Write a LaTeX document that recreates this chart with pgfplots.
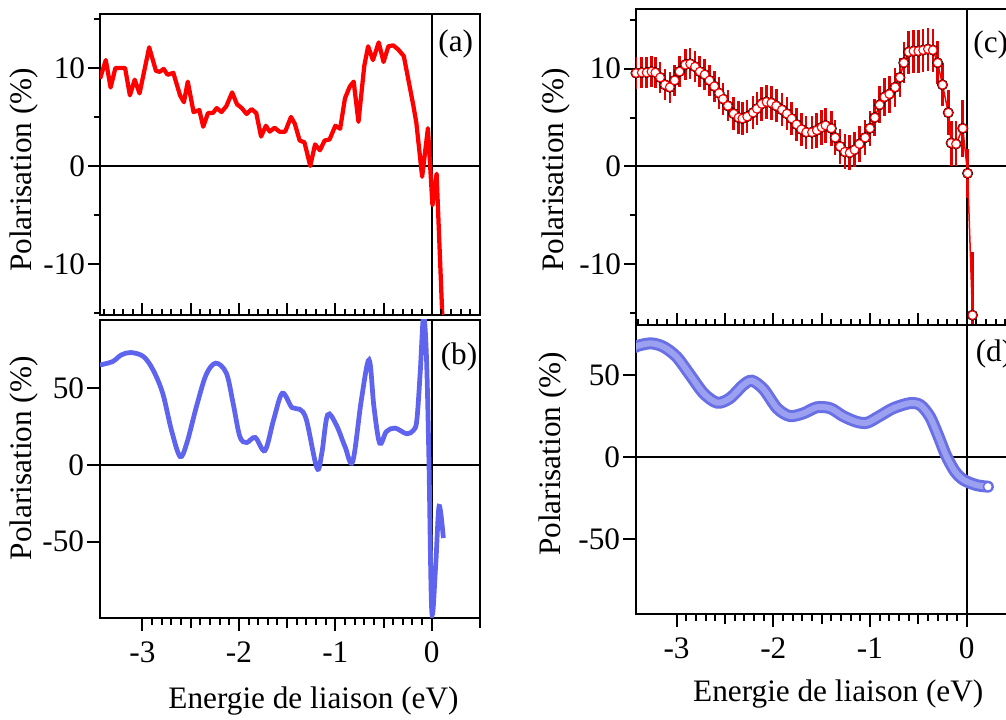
\documentclass[border=0pt]{standalone}
\usepackage{fontspec}
\setmainfont{Liberation Serif}
\usepackage{pgfplots}
\pgfplotsset{compat=1.18}
\usepackage{pgfplotstable}
\definecolor{cred}{RGB}{255,0,0}
\definecolor{cblue}{RGB}{95,100,238}
\definecolor{dblue}{RGB}{105,112,230}
\definecolor{lblue}{RGB}{155,160,240}

\pgfplotstableread{
x y
-3.44 8.9
-3.38 10.8
-3.33 8.0
-3.28 10.0
-3.18 10.0
-3.13 7.2
-3.08 8.8
-3.03 7.4
-2.93 12.1
-2.86 9.7
-2.82 9.6
-2.78 9.9
-2.74 9.3
-2.68 9.5
-2.61 7.2
-2.57 6.5
-2.53 8.6
-2.47 5.5
-2.41 5.7
-2.37 4.0
-2.32 5.4
-2.27 5.4
-2.23 5.9
-2.18 5.5
-2.13 6.1
-2.07 7.5
-2.02 6.3
-1.97 5.9
-1.92 5.3
-1.87 5.8
-1.82 5.4
-1.77 3.0
-1.72 4.1
-1.68 3.5
-1.63 3.9
-1.58 3.5
-1.52 3.5
-1.46 5.0
-1.42 4.3
-1.37 2.6
-1.32 2.4
-1.26 0.0
-1.21 2.2
-1.16 1.6
-1.11 2.6
-1.06 2.7
-1.00 4.1
-0.95 3.8
-0.90 6.9
-0.85 8.1
-0.81 8.6
-0.76 4.5
-0.70 10.2
-0.66 12.2
-0.61 10.8
-0.55 12.6
-0.50 10.6
-0.45 12.2
-0.40 12.3
-0.35 11.9
-0.29 11.2
-0.19 6.1
-0.16 4.4
-0.10 -1.1
-0.04 3.85
0.007 -4.0
0.05 -0.8
0.112 -16
}\dataA

\pgfplotstableread{
x y
-3.44 65
-3.31 67.2
-3.22 71.5
-3.12 73.1
-2.99 70.5
-2.89 61.8
-2.79 46.6
-2.70 22.8
-2.61 5.4
-2.54 14.1
-2.44 37.9
-2.34 58.6
-2.24 66.2
-2.13 59.7
-2.06 40.1
-1.99 18.4
-1.92 14.5
-1.83 17.8
-1.73 9.3
-1.64 29.3
-1.55 46.6
-1.45 37.3
-1.37 36.2
-1.30 29.3
-1.19 -2.2
-1.14 7.6
-1.08 32.5
-0.99 26.0
-0.90 11.9
-0.82 2.1
-0.73 42.3
-0.65 68.3
-0.60 37.9
-0.54 14.1
-0.47 21.7
-0.38 23.9
-0.26 20.2
-0.19 22.5
-0.155 29
-0.12 60
-0.085 97
-0.055 70
-0.03 5
0.0 -95.4
0.04 -66
0.076 -27
0.12 -47.7
}\dataB

\pgfplotstableread{
x y e
-3.42 9.55 1.6
-3.36 9.6 1.6
-3.31 9.6 1.6
-3.26 9.7 1.6
-3.22 9.6 1.6
-3.17 9.1 1.6
-3.12 8.35 1.6
-3.07 8.1 1.6
-3.02 8.8 1.6
-2.97 9.7 1.6
-2.91 10.4 1.6
-2.86 10.5 1.6
-2.81 10.2 1.6
-2.76 9.7 1.6
-2.71 9.4 1.6
-2.66 8.8 1.6
-2.61 8.2 1.6
-2.56 7.5 1.6
-2.52 6.9 1.6
-2.47 6.2 1.6
-2.41 5.4 1.7
-2.36 5.0 1.7
-2.32 4.9 1.7
-2.27 5.1 1.7
-2.21 5.5 1.7
-2.17 5.9 1.7
-2.12 6.4 1.7
-2.07 6.6 1.7
-2.02 6.5 1.7
-1.97 6.2 1.7
-1.91 5.8 1.7
-1.86 5.4 1.7
-1.81 4.9 1.7
-1.76 4.3 1.7
-1.71 3.8 1.7
-1.66 3.5 1.7
-1.60 3.5 1.7
-1.55 3.7 1.8
-1.50 4.0 1.8
-1.46 4.2 1.8
-1.40 3.9 1.8
-1.36 2.95 1.8
-1.31 2.05 1.8
-1.26 1.5 1.8
-1.21 1.4 1.8
-1.16 1.7 1.8
-1.11 2.3 1.8
-1.05 2.95 1.8
-1.00 3.9 1.8
-0.95 5.0 1.9
-0.90 6.3 1.9
-0.85 7.1 1.9
-0.80 7.4 1.9
-0.74 8.1 2.0
-0.69 9.1 2.0
-0.65 10.6 2.1
-0.60 11.7 2.2
-0.55 11.8 2.2
-0.50 11.8 2.2
-0.45 11.9 2.2
-0.40 12.0 2.2
-0.35 11.9 2.2
-0.30 10.6 2.2
-0.25 8.35 2.2
-0.19 5.5 2.3
-0.16 2.4 2.3
-0.11 2.3 2.3
-0.04 3.9 2.9
0.01 -0.7 2.5
0.06 -15.2 6.5
}\dataC

\pgfplotstableread{
x y
-3.42 67.4
-3.41 67.9
-3.27 69.5
-3.14 67.5
-3.00 61.3
-2.86 50.2
-2.72 39.0
-2.58 33.3
-2.45 36.0
-2.31 44.1
-2.22 46.7
-2.10 41.5
-1.96 29.9
-1.83 25.2
-1.69 26.8
-1.55 30.5
-1.41 29.9
-1.28 25.2
-1.14 21.7
-1.03 21.1
-0.90 25.2
-0.76 29.9
-0.59 33.0
-0.48 31.9
-0.38 24.8
-0.29 12.6
-0.21 0.8
-0.12 -8.7
-0.03 -13.8
0.10 -16.9
0.22 -17.9
}\dataD

\pgfplotstableread{
x y
0.22 -17.9
}\dataDend

\pgfplotsset{
  panel/.style={
    scale only axis,
    anchor=south west,
    axis line style={line width=0.8pt},
    tick style={line width=0.8pt, black},
    yticklabel style={xshift=3.2pt},
    clip=true,
  },
}

\begin{document}
\fontsize{12.5}{15}\selectfont
\begin{tikzpicture}
\path[use as bounding box, clip] (0,0) rectangle (402.4pt,288pt);

% ---------- (a) ----------
\begin{axis}[panel,
  at={(40pt,162pt)}, width=152pt, height=120.4pt,
  xmin=-3.44, xmax=0.5, ymin=-15.2, ymax=15.5,
  xtick=\empty,
  ytick={-10,0,10}, yticklabels={-10,0,10},
  minor ytick={-15,-5,5,15},
  ytick pos=left, tick align=outside,
  major tick length=4.8pt, minor tick length=2.6pt,
]
\addplot[black, line width=0.8pt] coordinates {(-3.44,0) (0.5,0)};
\addplot[black, line width=0.8pt] coordinates {(0,-15.2) (0,15.5)};
\addplot[cred, line width=1.7pt, line join=round] table[x=x,y=y] {\dataA};
\end{axis}
\begin{axis}[panel,
  at={(40pt,162pt)}, width=152pt, height=120.4pt,
  xmin=-3.44, xmax=0.5, ymin=-15.2, ymax=15.5,
  axis line style={draw=none},
  ytick=\empty,
  xtick={-3.5,-3,...,0.5}, xticklabels={},
  minor x tick num=4,
  xtick pos=left, tick align=inside,
  major tick length=4.8pt, minor tick length=2.4pt,
]
\end{axis}

% ---------- (b) ----------
\begin{axis}[panel,
  at={(40pt,40.8pt)}, width=152pt, height=119.2pt,
  xmin=-3.44, xmax=0.5, ymin=-99.7, ymax=94.3,
  xtick={-3,-2,-1,0}, xticklabels={-3,-2,-1,0},
  minor x tick num=9,
  extra x ticks={-2.5,-1.5,-0.5,0.5}, extra x tick labels={},
  extra x tick style={major tick length=4pt},
  ytick={-50,0,50}, yticklabels={-50,0,50},
  xtick pos=left, ytick pos=left, tick align=outside,
  major tick length=5.2pt, minor tick length=2.8pt,
]
\addplot[black, line width=0.8pt] coordinates {(-3.44,0) (0.5,0)};
\addplot[black, line width=0.8pt] coordinates {(0,-99.7) (0,94.3)};
\addplot[cblue, line width=1.9pt, smooth, tension=0.55] table[x=x,y=y] {\dataB};
\end{axis}

% ---------- (c) ----------
\begin{axis}[panel,
  at={(254.4pt,158pt)}, width=151.6pt, height=126.4pt,
  xmin=-3.42, xmax=0.5, ymin=-16.2, ymax=16.1,
  xtick=\empty,
  ytick={-10,0,10}, yticklabels={-10,0,10},
  minor ytick={-15,-5,5,15},
  ytick pos=left, tick align=outside,
  major tick length=4.8pt, minor tick length=2.6pt,
]
\addplot[black, line width=0.8pt] coordinates {(-3.42,0) (0.5,0)};
\addplot[black, line width=0.8pt] coordinates {(0,-16.2) (0,16.1)};
\addplot[only marks, mark=none,
  error bars/.cd, y dir=both, y explicit,
  error bar style={line width=1.05pt, draw=cred!88!black},
  error mark=none]
  table[x=x, y=y, y error=e] {\dataC};
\addplot[cred, line width=0.6pt, mark=*, mark size=1.75pt,
  mark options={fill=white, draw=cred, line width=0.45pt}]
  table[x=x, y=y] {\dataC};
\end{axis}
\begin{axis}[panel,
  at={(254.4pt,158pt)}, width=151.6pt, height=126.4pt,
  xmin=-3.42, xmax=0.5, ymin=-16.2, ymax=16.1,
  axis line style={draw=none},
  ytick=\empty,
  xtick={-3.5,-3,...,0.5}, xticklabels={},
  minor x tick num=4,
  xtick pos=left, tick align=inside,
  major tick length=4.8pt, minor tick length=2.4pt,
]
\end{axis}

% ---------- (d) ----------
\begin{axis}[panel,
  at={(254.4pt,42.4pt)}, width=151.6pt, height=115.6pt,
  xmin=-3.42, xmax=0.5, ymin=-95.5, ymax=80.7,
  xtick={-3,-2,-1,0}, xticklabels={-3,-2,-1,0},
  minor x tick num=9,
  extra x ticks={-2.5,-1.5,-0.5,0.5}, extra x tick labels={},
  extra x tick style={major tick length=4pt},
  ytick={-50,0,50}, yticklabels={-50,0,50},
  xtick pos=left, ytick pos=left, tick align=outside,
  major tick length=5.2pt, minor tick length=2.8pt,
]
\addplot[black, line width=0.8pt] coordinates {(-3.42,0) (0.5,0)};
\addplot[black, line width=0.8pt] coordinates {(0,-95.5) (0,80.7)};
\addplot[dblue, line width=4.8pt, smooth, line cap=round] table[x=x,y=y] {\dataD};
\addplot[lblue, line width=2.4pt, smooth, line cap=round] table[x=x,y=y] {\dataD};
\addplot[only marks, mark=*, mark size=1.8pt, mark options={fill=white, draw=dblue, line width=0.6pt}] table[x=x,y=y] {\dataDend};
\end{axis}

% ---------- labels ----------
\node at (182.3pt,270.4pt) {(a)};
\node at (183.6pt,145.2pt) {(b)};
\node at (396.3pt,270pt) {(c)};
\node at (397.6pt,146.4pt) {(d)};
\node[rotate=90] at (9.6pt,220pt) {Polarisation (\%)};
\node[rotate=90] at (9.6pt,104.7pt) {Polarisation (\%)};
\node[rotate=90] at (222.3pt,220pt) {Polarisation (\%)};
\node[rotate=90] at (221pt,106.4pt) {Polarisation (\%)};
\node[anchor=base] at (125.4pt,4.4pt) {Energie de liaison (eV)};
\node[anchor=base] at (335.3pt,7.3pt) {Energie de liaison (eV)};
\end{tikzpicture}
\end{document}
